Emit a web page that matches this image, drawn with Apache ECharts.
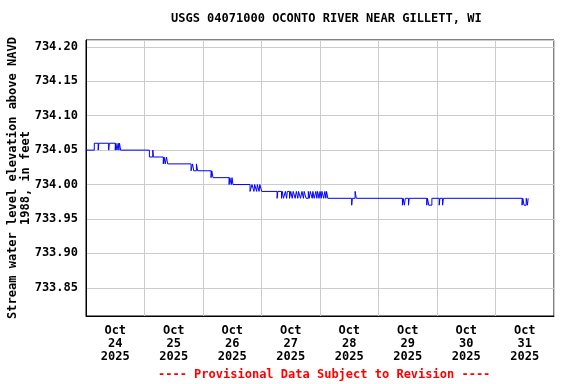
<!DOCTYPE html>
<html>
<head>
<meta charset="utf-8">
<script src="https://cdn.jsdelivr.net/npm/echarts@6/dist/echarts.min.js"></script>
<style>html,body{margin:0;padding:0;background:#fff;}#c{width:576px;height:384px;}</style>
</head>
<body>
<div id="c"></div>
<script>
// Hours since Oct 24 2025 00:00 at which the reading changes, and the reading from then on
var hours = [0, 3.4, 5.0, 5.25, 9.3, 9.55, 12.0, 12.25, 12.7, 13.2, 13.5, 13.75, 14.2,
  26.0, 27.4, 27.65, 31.7, 32.0, 32.5, 33.0, 33.5, 33.8,
  43.1, 43.7, 44.2, 45.3, 45.8, 46.1,
  51.3, 51.6, 52.1,
  58.7, 59.0, 59.6, 59.9, 60.3,
  67.3, 68.1, 68.9, 69.2, 70.0, 70.3, 71.0, 71.3, 72.1,
  78.4, 78.7, 80.2, 80.5, 81.0, 81.8, 82.3, 82.6, 83.5, 84.0, 84.6, 85.0, 85.8, 86.3, 86.9, 87.2,
  88.0, 88.6, 89.2, 89.5, 90.3, 91.2, 91.6, 92.0, 92.8, 93.1, 93.6, 94.3, 94.7, 95.0, 95.6, 96.0,
  96.5, 96.8, 97.5, 98.0, 98.4, 98.7, 99.2,
  109.0, 109.25, 110.4, 110.9,
  129.8, 130.1, 130.6, 131.0, 132.3, 132.6,
  139.8, 140.1, 140.6, 141.9,
  144.9, 145.2, 146.3, 146.6,
  178.9, 179.2, 179.7, 180.6, 181.1, 181.4, 181.6];
var stage = [734.05, 734.06, 734.05, 734.06, 734.05, 734.06, 734.05, 734.06, 734.05, 734.06, 734.05, 734.06, 734.05,
  734.04, 734.05, 734.04, 734.03, 734.04, 734.03, 734.04, 734.03, 734.03,
  734.02, 734.03, 734.02, 734.03, 734.02, 734.02,
  734.01, 734.02, 734.01,
  734.00, 734.01, 734.00, 734.01, 734.00,
  733.99, 734.00, 733.99, 734.00, 733.99, 734.00, 733.99, 734.00, 733.99,
  733.98, 733.99, 733.98, 733.99, 733.98, 733.99, 733.98, 733.99, 733.98, 733.99, 733.98, 733.99, 733.98, 733.99, 733.98, 733.99,
  733.98, 733.99, 733.98, 733.99, 733.98, 733.99, 733.98, 733.99, 733.98, 733.99, 733.98, 733.99, 733.98, 733.99, 733.98, 733.99,
  733.98, 733.99, 733.98, 733.99, 733.98, 733.99, 733.98,
  733.97, 733.98, 733.99, 733.98,
  733.97, 733.98, 733.97, 733.98, 733.97, 733.98,
  733.97, 733.98, 733.97, 733.98,
  733.97, 733.98, 733.97, 733.98,
  733.97, 733.98, 733.97, 733.98, 733.97, 733.98, 733.98];
var dayLabels = ['Oct\n24\n2025', 'Oct\n25\n2025', 'Oct\n26\n2025', 'Oct\n27\n2025',
  'Oct\n28\n2025', 'Oct\n29\n2025', 'Oct\n30\n2025', 'Oct\n31\n2025'];
var yMin = 733.809, yMax = 734.210;
var titleText = 'USGS 04071000 OCONTO RIVER NEAR GILLETT, WI';
var footText = '---- Provisional Data Subject to Revision ----';
var yName = 'Stream water level elevation above NAVD\n1988, in feet';

var FONT = 'DejaVu Sans Mono';
var data = hours.map(function (h, i) { return [h, stage[i]]; });
var chart = echarts.init(document.getElementById('c'), null, {renderer: 'canvas'});
chart.setOption({
  animation: false,
  backgroundColor: '#fff',
  grid: {left: 86, right: 22, top: 40, bottom: 68, show: true, borderColor: '#000', borderWidth: 1,
    backgroundColor: 'transparent', containLabel: false, outerBoundsMode: 'none'},
  graphic: [
    {type: 'text', top: 13, left: 171, style: {text: titleText, font: 'bold 12px ' + FONT, fill: '#000'}},
    {type: 'text', top: 369, left: 158, style: {text: footText, font: 'bold 12px ' + FONT, fill: '#ff0000'}}
  ],
  xAxis: [
    {type: 'value', min: 0, max: 192, interval: 24, axisLabel: {show: false}, axisTick: {show: false},
     axisLine: {show: true, lineStyle: {color: '#000'}},
     splitLine: {show: true, lineStyle: {color: '#cccccc', width: 1}}},
    {type: 'category', data: dayLabels, boundaryGap: true, position: 'bottom',
     axisLine: {show: false}, axisTick: {show: false}, splitLine: {show: false},
     axisLabel: {interval: 0, margin: 8, fontFamily: FONT, fontWeight: 'bold', fontSize: 12, color: '#000', lineHeight: 13}}
  ],
  yAxis: {type: 'value', min: yMin, max: yMax, splitNumber: 8,
    name: yName, nameLocation: 'middle', nameGap: 54, nameRotate: 90, nameMoveOverlap: false,
    nameTextStyle: {fontFamily: FONT, fontWeight: 'bold', fontSize: 12, color: '#000', lineHeight: 13, align: 'center'},
    axisLine: {show: true, lineStyle: {color: '#000'}}, axisTick: {show: false},
    axisLabel: {margin: 8, fontFamily: FONT, fontWeight: 'bold', fontSize: 12, color: '#000', showMinLabel: false, showMaxLabel: false,
      formatter: function (v) { return Math.abs(v * 20 - Math.round(v * 20)) < 1e-6 ? v.toFixed(2) : ''; }},
    splitLine: {show: true, lineStyle: {color: '#cccccc', width: 1}}},
  series: [{type: 'line', xAxisIndex: 0, data: data, step: 'end', showSymbol: false, symbol: 'none',
    lineStyle: {color: '#0000ff', width: 1}, silent: true}]
});
</script>
</body>
</html>
